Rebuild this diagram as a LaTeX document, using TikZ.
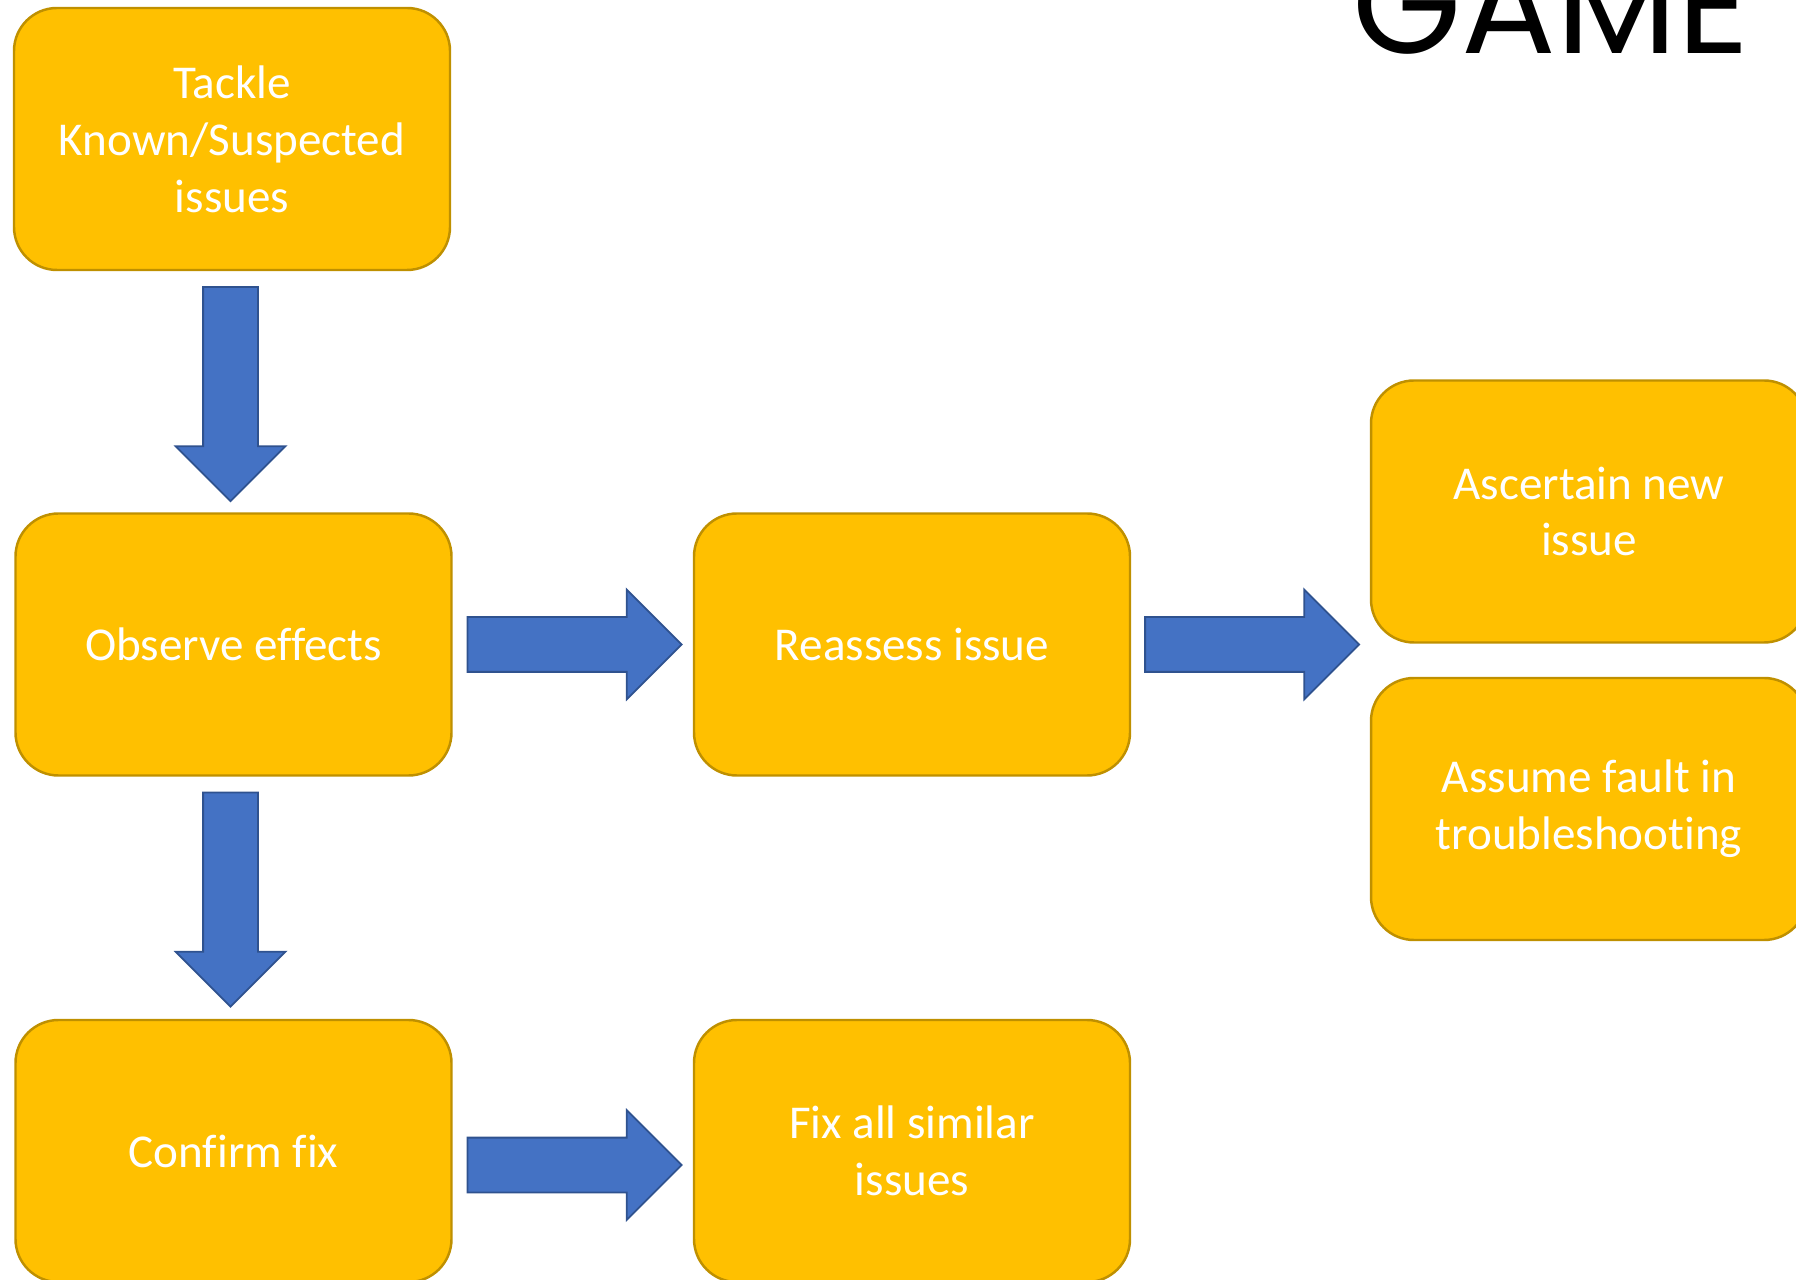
\documentclass[tikz,border=0pt]{standalone}
\usepackage{fontspec}
\setmainfont{Carlito}[Ligatures=NoCommon]
\newfontfamily\gamefont{Poppins}
\usetikzlibrary{shapes.arrows,calc}
\definecolor{gold}{HTML}{FFC000}
\definecolor{golddark}{HTML}{BF9000}
\definecolor{arrowblue}{HTML}{4472C4}
\definecolor{arrowedge}{HTML}{2F528F}

\begin{document}
\begin{tikzpicture}[>=latex,
  box/.style={draw=golddark,line width=0.7pt,fill=gold,rounded corners=0.43cm,
    minimum width=4.36cm,minimum height=2.62cm,text=white,align=center,
    font=\fontsize{13.4}{16.2}\selectfont},
  blk/.style={single arrow,draw=arrowedge,line width=0.5pt,fill=arrowblue,
    minimum height=2.14cm,inner sep=0.265cm,
    single arrow head extend=0.275cm,anchor=tail}]
\useasboundingbox (0,0) rectangle (17.96,-12.80);
\node[anchor=base east,inner sep=0pt,font=\gamefont\fontsize{40}{40}\selectfont] (game) at (17.50,-0.54) {GAME};
\node[box] (tackle)    at (2.32,-1.39)   {Tackle\\Known/Suspected\\issues};
\node[box] (observe)   at (2.335,-6.445) {Observe effects};
\node[box] (reassess)  at (9.12,-6.445)  {Reassess issue};
\node[box] (ascertain) at (15.89,-5.115) {Ascertain new\\issue};
\node[box] (assume)    at (15.89,-8.09)  {Assume fault in\\troubleshooting};
\node[box] (confirm)   at (2.335,-11.51) {Confirm fix};
\node[box] (fix)       at (9.12,-11.51)  {Fix all similar\\issues};
% block arrows
\node[blk,shape border rotate=270] (a1) at ($(tackle.south)+(-0.015,-0.15)$) {};
\node[blk,shape border rotate=270] (a2) at ($(observe.south)+(-0.03,-0.15)$) {};
\node[blk] (a3) at ($(observe.east)+(0.14,0)$) {};
\node[blk] (a4) at ($(reassess.east)+(0.13,0)$) {};
\node[blk] (a5) at ($(confirm.east)+(0.14,-0.14)$) {};
\end{tikzpicture}
\end{document}
